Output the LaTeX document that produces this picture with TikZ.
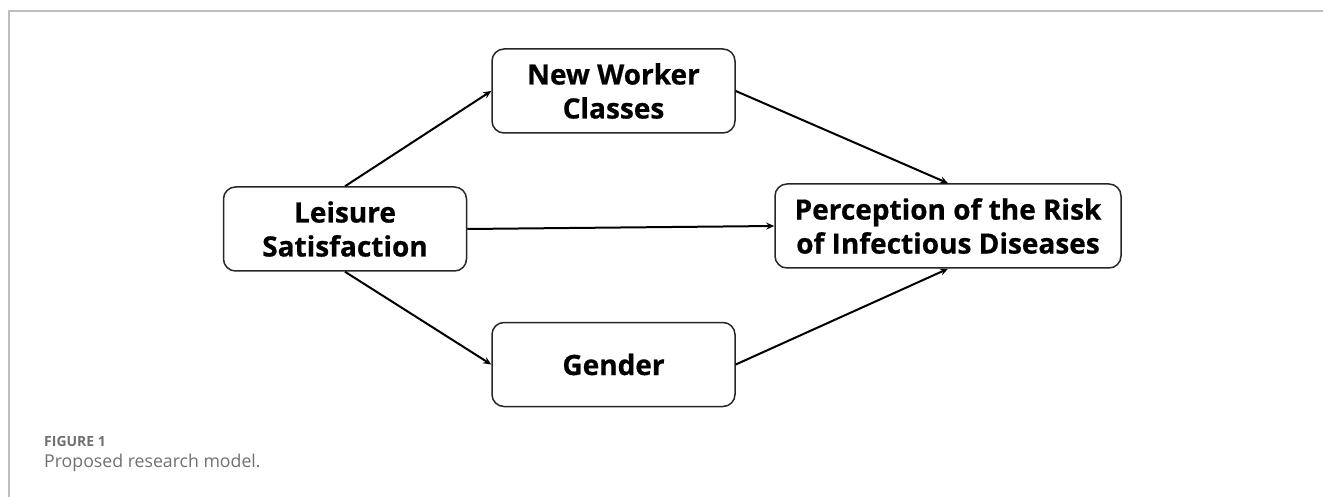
\documentclass[tikz,border=0pt]{standalone}
\usepackage{fontspec}
\setmainfont{Open Sans}
\newfontfamily\boxfont{Open Sans}[BoldFeatures={FakeBold=0.6}]
\usetikzlibrary{arrows.meta}
\definecolor{frame}{HTML}{BDBDBD}
\definecolor{capgray}{HTML}{707070}
\definecolor{boxline}{HTML}{262626}
\begin{document}
\begin{tikzpicture}[x=1pt,y=-1pt,
  box/.style={draw=boxline, line width=1.5pt, rounded corners=12pt, minimum width=243pt,
    minimum height=84pt, align=center, inner sep=0pt,
    font=\boxfont\fontsize{28}{34}\selectfont\bfseries, text=black},
  bigbox/.style={box, minimum width=346pt},
  link/.style={line width=2pt, -{Stealth[length=8pt,width=7pt]}},
  frameline/.style={draw=frame, line width=2pt}]
\useasboundingbox (0,0) rectangle (1323,497);
\draw[frameline] (1323,11) -- (9,11) -- (9,497);
\node[box] (ls) at (345,229) {Leisure\\Satisfaction};
\node[box] (nwc) at (613.5,91) {New Worker\\Classes};
\node[box] (gen) at (613.5,364.5) {Gender};
\node[bigbox] (pr) at (948,226) {Perception of the Risk\\of Infectious Diseases};
\draw[link] (ls.north) -- (nwc.west);
\draw[link] (nwc.east) -- (pr.north);
\draw[link] (ls.east) -- (pr.west);
\draw[link] (ls.south) -- (gen.west);
\draw[link] (gen.east) -- (pr.south);
\node[anchor=base west, inner sep=0pt, text=capgray, font=\fontsize{14}{17}\selectfont\bfseries] (fig) at (44,446) {FIGURE 1};
\node[anchor=base west, inner sep=0pt, text=capgray, font=\fontsize{17.7}{21}\selectfont] (cap) at (44,467) {Proposed research model.};
\end{tikzpicture}
\end{document}
